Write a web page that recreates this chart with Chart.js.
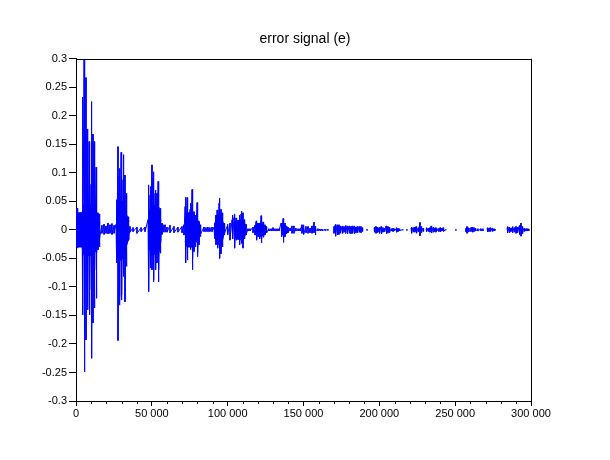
<!DOCTYPE html>
<html>
<head>
<meta charset="utf-8">
<title>error signal (e)</title>
<script src="https://cdn.jsdelivr.net/npm/chart.js@4.4.1/dist/chart.umd.min.js"></script>
<style>
    body { margin: 0; background: #fff; }
    #errChart { display: block; }
</style>
</head>
<body>
<canvas id="errChart" width="610" height="460"></canvas>
<script>
// envelope of the error signal: sample index, upper and lower value
// (null = no signal there, the trace is broken)
var sampleIdx = [
    0, 700, 1300, 2000, 2600, 3300, 4000, 4600, 5300, 5900, 6600, 7300, 7900, 8600, 9200, 9900,
    10500, 11200, 11900, 12500, 13200, 13800, 14500, 15200, 15800,
    17100, 18500, 19800, 21100, 22400, 23700, 25100, 26400,
    27000, 27700, 28400, 29000, 29700, 30300, 31000, 31600, 32300, 33000, 33600, 34300, 34900, 35600,
    37600, 40200, 42900, 45500, 47500,
    48100, 48800, 49400, 50100, 50800, 51400, 52100, 52700, 53400, 54100, 54700, 55400, 56000, 56700, 57400,
    58700, 60000, 62000, 64600, 67200, 69900, 71200,
    71900, 72500, 73200, 73800, 74500, 75200, 75800, 76500, 77100, 77800, 78500, 79100, 79800, 80400, 81100, 81800, 82400,
    84400, 85700, 87000, 88300, 89700, 91000,
    91600, 92300, 93000, 93600, 94300, 94900, 95600, 96300, 96900, 97600, 98200, 99600, 100200, 101500, 102900, 103500,
    104200, 104800, 105500, 106100, 106800, 107500, 108100, 108800, 109400, 110100, 110800, 111400, 112100,
    113400, 114700, 116700, 118000, 118700, 119300, 120000, 120700, 121300, 122000, 122600, 123300, 123900, 124600, 125300, 125900,
    127200, 128600, 129900, 131200, 132500, 133800,
    135200, 135800, 136500, 137100, 137800, 138500, 139100, 139800, 141100, 142400, 143700, 145000, 146400, 147700,
    149000, 149700, 150300, 151600, 153000, 154300, 155600, 156900, 157600, 158200, 159600, 160900, 162200, 164200, 166100,
    168000,
    170100, 170800, 171400, 172100, 172700, 173400, 174100, 174700, 175400, 176000, 176700, 177400, 178000, 178700, 179300,
    180000, 180600, 181300, 182000, 182600, 183300, 183900, 184600, 185300, 185900, 186600, 187200, 187900, 188600, 189200,
    190500, 191900, 194000,
    196500, 197100, 197800, 198400, 199100, 199800, 200400, 201100, 201700, 202400, 203100, 203700, 204400, 205000, 205700,
    206400, 207000, 207700, 208300, 209000, 209700, 210300, 211000, 211600, 212300, 213000, 213600, 215600,
    217000, 218200, 219500,
    220900, 221500, 222200, 222800, 223500, 224200, 224800, 225500, 226100, 226800, 227500, 228100, 228800, 229400,
    230100,
    230800, 231400, 232100, 232700, 233400, 234100, 234700, 235400, 236000, 236700, 237300, 238000,
    238700,
    239300, 240000, 240600, 241300, 242000, 242600, 243900,
    247000, 250500, 254000,
    257100, 257800, 258400, 259100,
    259800,
    260400, 261100, 261700, 262400, 263100, 263700, 265000, 267000, 268300,
    269600,
    271000, 271600, 272300, 273000, 273600, 274300, 274900, 275600, 276300,
    280000,
    284200, 284800, 285500, 286100, 286800, 287500, 288100, 288800, 289400, 290100, 290800, 291400, 292100, 292700,
    293400, 294100, 294700, 295400, 296000, 296700, 297300, 298000, 298700
];
var upperEnv = [
    0.035, 0.038, 0.02, 0.025, 0.028, 0.03, 0.03, 0.233, 0.30, 0.065, 0.267, 0.177, 0.117, 0.155, 0.10, 0.08,
    0.225, 0.168, 0.155, 0.05, 0.11, 0.032, 0.03, 0.028, 0.015,
    0.008, 0.01, 0.007, 0.012, 0.009, 0.011, 0.008, 0.01,
    0.053, 0.146, 0.094, 0.108, 0.136, 0.108, 0.088, 0.132, 0.096, 0.064, 0.03, 0.023, 0.017, 0.006,
    0.004, 0.005, 0.004, 0.005, 0.018,
    0.079, 0.061, 0.076, 0.114, 0.091, 0.102, 0.064, 0.070, 0.064, 0.085, 0.079, 0.038, 0.023, 0.012, 0.009,
    0.009, 0.005, 0.008, 0.006, 0.005, 0.006, 0.009,
    0.041, 0.057, 0.057, 0.026, 0.029, 0.036, 0.047, 0.071, 0.061, 0.032, 0.026, 0.009, 0.048, 0.041, 0.015, 0.009, 0.006,
    0.005, 0.004, 0.005, 0.004, 0.005, 0.005,
    0.012, 0.026, 0.035, 0.029, 0.047, 0.056, 0.036, 0.030, 0.021, 0.012, 0.006, 0.006, 0.010, 0.012, 0.018, 0.026,
    0.022, 0.028, 0.021, 0.019, 0.015, 0.010, 0.026, 0.028, 0.033, 0.030, 0.018, 0.012, 0.010,
    0.002, 0.002, 0.005, 0.008, 0.015, 0.016, 0.012, 0.011, 0.012, 0.025, 0.018, 0.014, 0.012, 0.009, 0.006, 0.005,
    0.002, 0.002, 0.004, 0.002, 0.002, 0.002,
    0.012, 0.009, 0.020, 0.014, 0.012, 0.007, 0.006, 0.005, 0.003, 0.007, 0.007, 0.003, 0.002, 0.002,
    0.009, 0.008, 0.009, 0.006, 0.006, 0.003, 0.007, 0.0135, 0.006, 0.002, 0.002, 0.0015, 0.0015, 0.001, 0.001,
    null,
    0.006, 0.008, 0.010, 0.009, 0.008, 0.009, 0.007, 0.004, 0.006, 0.007, 0.006, 0.005, 0.008, 0.007, 0.006,
    0.007, 0.003, 0.006, 0.007, 0.006, 0.007, 0.006, 0.005, 0.006, 0.005, 0.006, 0.005, 0.006, 0.004, 0.002,
    null, 0.001, null,
    0.004, 0.005, 0.006, 0.005, 0.004, 0.003, 0.005, 0.006, 0.005, 0.004, 0.002, 0.003, 0.007, 0.007, 0.006,
    0.005, 0.004, 0.002, 0.002, 0.003, 0.002, 0.001, 0.002, 0.004, 0.003, 0.002, 0.001, 0.0005,
    null, 0.001, null,
    0.003, 0.005, 0.004, 0.003, 0.005, 0.006, 0.005, 0.003, 0.004, 0.013, 0.006, 0.004, 0.003, 0.002,
    null,
    0.002, 0.004, 0.003, 0.003, 0.004, 0.007, 0.005, 0.004, 0.005, 0.003, 0.004, 0.002,
    null,
    0.003, 0.004, 0.004, 0.003, 0.004, 0.002, 0.0005,
    null, 0.001, null,
    0.003, 0.006, 0.004, 0.003,
    null,
    0.004, 0.005, 0.004, 0.004, 0.003, 0.002, 0.002, 0.002, 0.002,
    null,
    0.003, 0.004, 0.003, 0.004, 0.002, 0.003, 0.002, 0.002, 0.001,
    null,
    0.004, 0.006, 0.005, 0.004, 0.003, 0.004, 0.006, 0.004, 0.003, 0.006, 0.005, 0.004, 0.006, 0.008,
    0.012, 0.006, 0.004, 0.003, 0.002, 0.002, 0.002, 0.002, 0.001
];
var lowerEnv = [
    -0.03, -0.032, -0.03, -0.028, -0.03, -0.03, -0.032, -0.149, -0.249, -0.105, -0.193, -0.114, -0.14, -0.149, -0.105, -0.09,
    -0.225, -0.163, -0.137, -0.07, -0.12, -0.04, -0.035, -0.03, -0.012,
    -0.006, -0.008, -0.006, -0.007, -0.006, -0.008, -0.006, -0.007,
    -0.058, -0.194, -0.132, -0.117, -0.123, -0.114, -0.082, -0.070, -0.126, -0.064, -0.025, -0.018, -0.018, -0.004,
    -0.003, -0.006, -0.003, -0.003, -0.018,
    -0.108, -0.067, -0.047, -0.070, -0.091, -0.088, -0.058, -0.070, -0.058, -0.091, -0.070, -0.041, -0.023, -0.008, -0.004,
    -0.004, -0.004, -0.005, -0.005, -0.004, -0.005, -0.009,
    -0.035, -0.058, -0.053, -0.023, -0.029, -0.035, -0.032, -0.070, -0.050, -0.038, -0.030, -0.015, -0.047, -0.041, -0.026, -0.012, -0.007,
    -0.003, -0.003, -0.003, -0.003, -0.003, -0.003,
    -0.015, -0.026, -0.030, -0.032, -0.040, -0.050, -0.042, -0.030, -0.018, -0.009, -0.005, -0.006, -0.009, -0.018, -0.011, -0.016,
    -0.020, -0.032, -0.018, -0.018, -0.015, -0.012, -0.026, -0.024, -0.023, -0.032, -0.016, -0.011, -0.009,
    -0.002, -0.002, -0.005, -0.009, -0.015, -0.018, -0.012, -0.013, -0.016, -0.023, -0.016, -0.013, -0.012, -0.009, -0.005, -0.005,
    -0.002, -0.002, -0.002, -0.002, -0.002, -0.002,
    -0.011, -0.012, -0.022, -0.014, -0.012, -0.007, -0.005, -0.005, -0.002, -0.006, -0.006, -0.002, -0.002, -0.002,
    -0.006, -0.007, -0.008, -0.005, -0.006, -0.005, -0.006, -0.005, -0.009, -0.002, -0.002, -0.0015, -0.0015, -0.001, -0.001,
    null,
    -0.006, -0.007, -0.011, -0.009, -0.008, -0.008, -0.006, -0.004, -0.005, -0.006, -0.004, -0.005, -0.006, -0.007, -0.005,
    -0.006, -0.003, -0.007, -0.006, -0.006, -0.007, -0.005, -0.005, -0.004, -0.005, -0.004, -0.004, -0.005, -0.003, -0.002,
    null, -0.001, null,
    -0.003, -0.004, -0.006, -0.005, -0.004, -0.003, -0.006, -0.007, -0.005, -0.004, -0.002, -0.003, -0.006, -0.007, -0.005,
    -0.005, -0.004, -0.002, -0.002, -0.003, -0.002, -0.001, -0.002, -0.004, -0.003, -0.002, -0.001, -0.0005,
    null, -0.001, null,
    -0.003, -0.006, -0.004, -0.002, -0.004, -0.006, -0.005, -0.003, -0.003, -0.0105, -0.005, -0.004, -0.003, -0.002,
    null,
    -0.002, -0.003, -0.003, -0.002, -0.004, -0.005, -0.005, -0.004, -0.004, -0.003, -0.004, -0.002,
    null,
    -0.003, -0.003, -0.003, -0.002, -0.003, -0.002, -0.0005,
    null, -0.001, null,
    -0.003, -0.006, -0.004, -0.003,
    null,
    -0.003, -0.004, -0.004, -0.003, -0.002, -0.002, -0.002, -0.002, -0.002,
    null,
    -0.002, -0.003, -0.003, -0.003, -0.002, -0.003, -0.002, -0.002, -0.001,
    null,
    -0.004, -0.005, -0.005, -0.004, -0.003, -0.004, -0.005, -0.004, -0.003, -0.006, -0.005, -0.004, -0.006, -0.008,
    -0.011, -0.007, -0.005, -0.003, -0.002, -0.002, -0.002, -0.002, -0.001
];

// the solid (densely oscillating) core of each burst, also
var coreIdx = [
    0, 4000, 5300, 10500, 13800, 15800, 16500,
    27000, 27700, 31600, 33000, 34900, 35500,
    48100, 50100, 54700, 56000, 56800,
    71900, 73200, 76500, 79800, 81800, 82500,
    91600, 93000, 95600, 97600, 98300,
    104200, 110100, 112100, 112800,
    118000, 122000, 125900, 126500,
    135200, 137800, 139800
];
var coreHi = [
    0.03, 0.03, 0.045, 0.045, 0.03, 0.012, null,
    0.03, 0.05, 0.05, 0.03, 0.015, null,
    0.03, 0.045, 0.04, 0.015, null,
    0.02, 0.03, 0.03, 0.02, 0.008, null,
    0.012, 0.025, 0.025, 0.008, null,
    0.015, 0.018, 0.006, null,
    0.008, 0.012, 0.004, null,
    0.008, 0.008, 0.004
];
var coreLo = [
    -0.03, -0.03, -0.045, -0.045, -0.035, -0.012, null,
    -0.03, -0.055, -0.05, -0.03, -0.015, null,
    -0.03, -0.045, -0.04, -0.015, null,
    -0.02, -0.03, -0.03, -0.02, -0.008, null,
    -0.012, -0.025, -0.025, -0.008, null,
    -0.015, -0.018, -0.006, null,
    -0.008, -0.012, -0.004, null,
    -0.008, -0.008, -0.004
];

// axis settings
var xMin = 0, xMax = 300000, xMajorStep = 50000, xMinorStep = 10000;
var yMin = -0.3, yMax = 0.3, yStep = 0.05;

var traceColor = '#0000ff';
var fontFamily = "'Liberation Sans', Arial, Helvetica, sans-serif";

// build the trace: a vertical stroke per column, joined to the next one
function buildTrace() {
    var pts = [];
    for (var i = 0; i < sampleIdx.length; i++) {
        if (upperEnv[i] === null) {
            pts.push({ x: sampleIdx[i], y: null });
        } else {
            pts.push({ x: sampleIdx[i], y: upperEnv[i] });
            pts.push({ x: sampleIdx[i], y: lowerEnv[i] });
        }
    }
    return pts;
}

function toPoints(xs, ys) {
    return xs.map(function (x, i) { return { x: x, y: ys[i] }; });
}

// "50 000" style labels
function fmtThousands(v) {
    return String(v).replace(/\B(?=(\d{3})+(?!\d))/g, ' ');
}

//minor x ticks and the top / right sides of the box
var boxPlugin = {
    id: 'boxPlugin',
    afterDraw: function (chart) {
        var ctx = chart.ctx;
        var area = chart.chartArea;
        var xs = chart.scales.x;
        ctx.save();
        ctx.strokeStyle = '#000';
        ctx.lineWidth = 1;
        ctx.beginPath();
        for (var v = xMin + xMinorStep; v < xMax; v += xMinorStep) {
            if (v % xMajorStep === 0) continue;
            var px = Math.round(xs.getPixelForValue(v)) + 0.5;
            ctx.moveTo(px, area.bottom);
            ctx.lineTo(px, area.bottom + 3);
        }
        ctx.moveTo(area.left, Math.round(area.top) + 0.5);
        ctx.lineTo(area.right + 1, Math.round(area.top) + 0.5);
        ctx.moveTo(Math.round(area.right) + 0.5, area.top);
        ctx.lineTo(Math.round(area.right) + 0.5, area.bottom);
        ctx.stroke();
        ctx.restore();
    }
};

var ctx = document.getElementById('errChart').getContext('2d');
var errChart = new Chart(ctx, {
    type: 'line',
    data: {
        datasets: [{
            label: 'e',
            data: buildTrace(),
            borderColor: traceColor,
            borderWidth: 1,
            pointRadius: 0,
            tension: 0,
            fill: false,
            spanGaps: false
        }, {
            label: 'core top',
            data: toPoints(coreIdx, coreHi),
            borderColor: traceColor,
            borderWidth: 1,
            backgroundColor: traceColor,
            pointRadius: 0,
            tension: 0,
            fill: '+1',
            spanGaps: false
        }, {
            label: 'core bottom',
            data: toPoints(coreIdx, coreLo),
            borderColor: traceColor,
            borderWidth: 1,
            pointRadius: 0,
            tension: 0,
            fill: false,
            spanGaps: false
        }]
    },
    options: {
        responsive: false,
        animation: false,
        events: [],
        layout: { padding: 0 },
        plugins: {
            legend: { display: false },
            tooltip: { enabled: false },
            title: {
                display: true,
                text: 'error signal (e)',
                color: '#000',
                font: { family: fontFamily, size: 14, weight: 'normal' },
                padding: { top: 31, bottom: 11 }
            }
        },
        scales: {
            x: {
                type: 'linear',
                min: xMin,
                max: xMax,
                afterFit: function (s) { s.height = 59; },
                border: { display: true, color: '#000', width: 1 },
                grid: { drawOnChartArea: false, drawTicks: true, tickLength: 5, color: '#000' },
                ticks: {
                    stepSize: xMajorStep,
                    autoSkip: false,
                    maxRotation: 0,
                    padding: 1,
                    color: '#000',
                    font: { family: fontFamily, size: 11 },
                    callback: function (v) { return fmtThousands(v); }
                }
            },
            y: {
                min: yMin,
                max: yMax,
                afterFit: function (s) { s.width = 76; },
                border: { display: true, color: '#000', width: 1 },
                grid: { drawOnChartArea: false, drawTicks: true, tickLength: 7, color: '#000' },
                ticks: {
                    stepSize: yStep,
                    autoSkip: false,
                    padding: 2,
                    color: '#000',
                    font: { family: fontFamily, size: 11 },
                    callback: function (v) { return String(Math.round(v * 100) / 100); }
                }
            },
            // empty axis on the right, only keeps the margin
            yRight: {
                position: 'right',
                display: true,
                afterFit: function (s) { s.width = 79; },
                border: { display: false },
                grid: { display: false },
                ticks: { display: false }
            }
        }
    },
    plugins: [boxPlugin]
});
</script>
</body>
</html>
